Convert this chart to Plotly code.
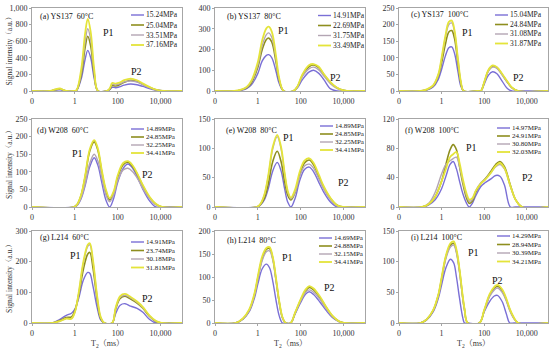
import plotly.graph_objects as go

# ---------------- DATA ----------------
X_TICKS = [0.01, 1, 100, 10000]
X_TICK_TEXT = ["0", "1", "100", "10,000"]

TITLES = ["(a) YS137  60°C", "(b) YS137  80°C", "(c) YS137  100°C",
          "(d) W208  60°C", "(e) W208  80°C", "(f) W208  100°C",
          "(g) L214  60°C", "(h) L214  80°C", "(i) L214  100°C"]

PRESS_A = ["15.24MPa", "25.04MPa", "33.51MPa", "37.16MPa"]
PRESS_B = ["14.91MPa", "22.69MPa", "31.75MPa", "33.49MPa"]
PRESS_C = ["15.04MPa", "24.84MPa", "31.08MPa", "31.87MPa"]
PRESS_D = ["14.89MPa", "24.85MPa", "32.25MPa", "34.41MPa"]
PRESS_E = ["14.89MPa", "24.85MPa", "32.25MPa", "34.41MPa"]
PRESS_F = ["14.97MPa", "24.91MPa", "30.80MPa", "32.03MPa"]
PRESS_G = ["14.91MPa", "23.74MPa", "30.18MPa", "31.81MPa"]
PRESS_H = ["14.69MPa", "24.88MPa", "32.15MPa", "34.41MPa"]
PRESS_I = ["14.29MPa", "28.94MPa", "30.39MPa", "34.21MPa"]

# (a) YS137 60C
T2_A = [0.01, 0.07, 0.12, 0.2, 0.28, 0.4, 0.9, 1.2, 2, 3, 4, 5.5, 8, 12, 30, 42, 55, 80, 120, 200, 400, 800, 1500, 3000, 6000, 15000, 100000]
A1 = [0, 0, 10, 15, 8, 0, 0, 5, 150, 380, 490, 400, 150, 0, 0, 15, 45, 40, 50, 70, 85, 75, 55, 30, 12, 0, 0]
A2 = [0, 0, 15, 25, 12, 0, 0, 8, 200, 520, 660, 540, 200, 0, 0, 20, 65, 60, 75, 105, 130, 115, 80, 45, 15, 0, 0]
A3 = [0, 0, 18, 28, 14, 0, 0, 10, 230, 590, 750, 620, 230, 0, 0, 25, 80, 72, 85, 110, 120, 108, 75, 40, 14, 0, 0]
A4 = [0, 0, 20, 30, 15, 0, 0, 12, 270, 690, 870, 710, 260, 0, 0, 30, 95, 90, 100, 130, 150, 130, 90, 50, 18, 0, 0]

# (b) YS137 80C
T2_B = [0.01, 0.08, 0.15, 0.3, 0.5, 1, 1.6, 2.5, 3.2, 4.5, 7, 10, 16, 45, 70, 120, 250, 400, 700, 1200, 2500, 5000, 10000, 15000, 100000]
B1 = [0, 0, 3, 12, 30, 85, 145, 172, 175, 160, 95, 35, 0, 0, 15, 55, 92, 100, 85, 55, 10, 0, 0, 0, 0]
B2 = [0, 0, 4, 15, 40, 115, 200, 248, 255, 235, 140, 50, 0, 0, 20, 75, 118, 125, 112, 80, 40, 15, 3, 0, 0]
B3 = [0, 0, 4, 17, 45, 125, 220, 272, 280, 258, 155, 55, 0, 0, 18, 70, 108, 115, 102, 72, 34, 12, 2, 0, 0]
B4 = [0, 0, 5, 20, 50, 140, 245, 302, 310, 285, 170, 60, 0, 0, 22, 80, 125, 130, 117, 82, 42, 16, 3, 0, 0]

# (c) YS137 100C
T2_C = [0.01, 0.1, 0.2, 0.4, 0.7, 1, 1.5, 2.2, 3, 4, 6, 8, 11, 50, 70, 100, 160, 250, 400, 700, 1200, 2000, 4000, 100000]
C1 = [0, 0, 3, 12, 35, 65, 105, 130, 133, 115, 55, 15, 0, 0, 0, 20, 48, 58, 52, 30, 8, 0, 0, 0]
C2 = [0, 0, 4, 15, 45, 85, 140, 178, 182, 160, 80, 25, 0, 0, 0, 25, 62, 75, 70, 50, 28, 10, 0, 0]
C3 = [0, 0, 4, 16, 48, 95, 160, 200, 205, 180, 90, 28, 0, 0, 0, 24, 60, 72, 68, 48, 27, 9, 0, 0]
C4 = [0, 0, 5, 17, 50, 100, 165, 208, 212, 185, 92, 30, 0, 0, 0, 26, 64, 77, 72, 52, 30, 11, 0, 0]

# (d) W208 60C
T2_D = [0.01, 0.9, 1.3, 2, 3, 5, 8, 12, 18, 28, 42, 65, 100, 180, 300, 500, 900, 1500, 3000, 6000, 12000, 100000]
D1 = [0, 0, 5, 25, 60, 115, 140, 118, 70, 20, 0, 25, 70, 110, 122, 110, 80, 50, 18, 0, 0, 0]
D2 = [0, 0, 8, 35, 85, 160, 185, 160, 100, 45, 20, 40, 85, 120, 127, 115, 88, 60, 28, 8, 0, 0]
D3 = [0, 0, 6, 28, 65, 125, 150, 130, 85, 35, 15, 35, 75, 105, 110, 100, 78, 52, 25, 6, 0, 0]
D4 = [0, 0, 8, 36, 88, 165, 190, 165, 105, 50, 25, 45, 90, 125, 130, 118, 90, 62, 30, 9, 0, 0]

# (e) W208 80C
T2_E = [0.01, 0.9, 1.3, 2, 3, 5, 8, 12, 18, 25, 35, 55, 90, 150, 250, 400, 700, 1200, 2500, 5000, 10000, 100000]
E1 = [0, 0, 3, 12, 30, 62, 76, 62, 30, 8, 0, 15, 45, 64, 68, 60, 42, 25, 8, 0, 0, 0]
E2 = [0, 0, 4, 15, 38, 78, 95, 78, 42, 20, 12, 25, 55, 75, 80, 72, 52, 33, 14, 3, 0, 0]
E3 = [0, 0, 5, 20, 50, 100, 120, 100, 55, 25, 14, 25, 52, 70, 73, 66, 48, 30, 12, 2, 0, 0]
E4 = [0, 0, 5, 21, 52, 103, 123, 103, 57, 27, 16, 30, 60, 79, 83, 75, 55, 35, 15, 3, 0, 0]

# (f) W208 100C
T2_F = [0.01, 0.12, 0.25, 0.5, 1, 1.6, 2.5, 3.5, 5, 7, 10, 15, 20, 28, 40, 70, 110, 200, 350, 550, 900, 1700, 3000, 6000, 100000]
F1 = [0, 0, 3, 10, 25, 42, 58, 62, 52, 35, 18, 5, 0, 5, 15, 28, 33, 38, 43, 42, 30, 0, 0, 0, 0]
F2 = [0, 0, 4, 14, 35, 58, 78, 85, 78, 55, 32, 12, 5, 8, 20, 32, 38, 48, 58, 62, 55, 30, 10, 0, 0]
F3 = [0, 0, 5, 20, 45, 58, 63, 66, 68, 55, 35, 15, 8, 10, 22, 33, 38, 46, 55, 58, 52, 28, 10, 0, 0]
F4 = [0, 0, 4, 14, 35, 52, 68, 72, 75, 60, 38, 18, 10, 12, 22, 32, 37, 46, 56, 60, 53, 29, 10, 0, 0]

# (g) L214 60C
T2_G = [0.01, 0.09, 0.2, 0.4, 0.7, 1, 1.5, 2.5, 4, 5, 7, 11, 16, 24, 55, 80, 130, 220, 400, 800, 1500, 3000, 6000, 11000, 100000]
G1 = [0, 0, 12, 25, 32, 45, 80, 140, 165, 162, 120, 50, 10, 0, 0, 30, 58, 63, 55, 48, 35, 12, 0, 0, 0]
G2 = [0, 0, 8, 18, 20, 40, 90, 175, 225, 230, 180, 75, 15, 0, 0, 45, 80, 87, 78, 65, 48, 22, 5, 0, 0]
G3 = [0, 0, 6, 15, 15, 35, 95, 195, 250, 255, 200, 85, 18, 0, 0, 48, 84, 90, 82, 68, 50, 24, 6, 0, 0]
G4 = [0, 0, 6, 14, 14, 35, 98, 200, 255, 260, 205, 88, 20, 0, 0, 50, 88, 95, 85, 70, 52, 25, 7, 0, 0]

# (h) L214 80C
T2_H = [0.01, 0.09, 0.2, 0.4, 0.7, 1, 1.6, 2.5, 3.5, 5, 7, 10, 14, 20, 34, 55, 100, 170, 250, 400, 800, 1500, 3000, 6000, 11000, 100000]
H1 = [0, 0, 8, 25, 55, 85, 118, 128, 120, 90, 50, 15, 0, 0, 0, 20, 45, 63, 68, 62, 45, 28, 12, 3, 0, 0]
H2 = [0, 0, 9, 28, 62, 98, 140, 160, 162, 140, 95, 45, 12, 0, 0, 22, 50, 70, 77, 72, 55, 35, 15, 4, 0, 0]
H3 = [0, 0, 9, 27, 60, 95, 136, 155, 157, 136, 92, 43, 11, 0, 0, 21, 48, 67, 72, 67, 51, 32, 14, 3, 0, 0]
H4 = [0, 0, 10, 30, 65, 102, 145, 163, 165, 143, 98, 47, 13, 0, 0, 23, 52, 73, 80, 75, 57, 36, 16, 4, 0, 0]

# (i) L214 100C
T2_I = [0.01, 0.1, 0.2, 0.4, 0.7, 1, 1.6, 2.6, 3.7, 5, 7, 10, 12, 17, 60, 100, 180, 300, 420, 700, 1100, 1600, 2500, 4000, 100000]
I1 = [0, 0, 5, 18, 40, 62, 90, 104, 98, 75, 40, 8, 0, 0, 0, 18, 35, 44, 45, 35, 15, 0, 0, 0, 0]
I2 = [0, 0, 6, 20, 45, 72, 108, 127, 130, 117, 85, 40, 22, 0, 0, 20, 45, 57, 60, 53, 38, 22, 8, 0, 0]
I3 = [0, 0, 6, 20, 44, 70, 105, 124, 127, 114, 82, 38, 20, 0, 0, 19, 43, 54, 57, 50, 36, 20, 7, 0, 0]
I4 = [0, 0, 6, 21, 46, 74, 110, 130, 133, 120, 87, 42, 23, 0, 0, 21, 47, 59, 62, 55, 40, 23, 9, 0, 0]

Y_MAX = [1000, 400, 250, 250, 150, 120, 300, 200, 150]
Y_DTICK = [200, 100, 50, 50, 50, 40, 100, 50, 50]

PANELS = [
    (T2_A, [A1, A2, A3, A4], PRESS_A),
    (T2_B, [B1, B2, B3, B4], PRESS_B),
    (T2_C, [C1, C2, C3, C4], PRESS_C),
    (T2_D, [D1, D2, D3, D4], PRESS_D),
    (T2_E, [E1, E2, E3, E4], PRESS_E),
    (T2_F, [F1, F2, F3, F4], PRESS_F),
    (T2_G, [G1, G2, G3, G4], PRESS_G),
    (T2_H, [H1, H2, H3, H4], PRESS_H),
    (T2_I, [I1, I2, I3, I4], PRESS_I),
]

# ---------------- STYLE / LAYOUT ----------------
W, H = 550, 351
FONT = "Times New Roman, Liberation Serif, Noto Serif CJK SC, Noto Sans CJK SC, serif"
COLORS = ["#7a6fd6", "#8e8e1e", "#b3a5b3", "#e4e43a"]
WIDTHS = [1.4, 1.6, 1.4, 1.8]

COLS = [(32, 182), (215, 365), (399, 548)]
ROWS = [(8, 91), (119, 207), (231, 323)]

# legend: (line x start px, first item y px, spacing px, font size)
LEG = [(131, 15, 10, 7.5), (318, 15.5, 10, 7.5), (495, 15, 9.5, 7.5),
       (131, 129, 8, 7), (320, 126, 8, 7), (497, 128, 8, 7),
       (131, 242, 8.5, 7), (319, 238, 8, 7), (497, 236, 8.5, 7)]
# annotation positions: title (x,y), P1 (x,y), P2 (x,y) in px
ANN = [((38, 17), (108, 32), (136, 71)),
       ((225, 16), (283, 30), (335, 77)),
       ((409, 15), (467, 32), (518, 77)),
       ((35, 130), (77, 153), (147, 174)),
       ((224, 130), (288, 137), (343, 182)),
       ((403, 130), (471, 147), (527, 177)),
       ((38, 237), (75, 255), (147, 298)),
       ((225, 240), (287, 257), (329, 287)),
       ((409, 237), (473, 253), (497, 280))]


def px(x):
    return x / W


def py(y):
    return 1 - y / H


fig = go.Figure()
shapes = []
annotations = []

for i, (t2, series, press) in enumerate(PANELS):
    r, c = divmod(i, 3)
    n = "" if i == 0 else str(i + 1)
    xa, ya = "x" + n, "y" + n
    for k in range(4):
        fig.add_trace(go.Scatter(
            x=t2, y=series[k], xaxis=xa, yaxis=ya, mode="lines",
            line=dict(color=COLORS[k], width=WIDTHS[k], shape="spline", smoothing=1.0),
            name=press[k], showlegend=False))
    x0, x1 = COLS[c]
    y0, y1 = ROWS[r]
    fig.layout["xaxis" + n] = dict(
        domain=[px(x0), px(x1)], anchor=ya, type="log", range=[-2, 5],
        tickvals=X_TICKS, ticktext=X_TICK_TEXT, showgrid=False, zeroline=False,
        showline=True, linecolor="#a6a6a6", linewidth=1, mirror=True,
        ticks="outside", ticklen=2, tickcolor="#a6a6a6",
        tickfont=dict(family=FONT, size=8, color="#333"), automargin=False)
    fig.layout["yaxis" + n] = dict(
        domain=[py(y1), py(y0)], anchor=xa, range=[0, Y_MAX[i]], dtick=Y_DTICK[i],
        tickformat=",", showgrid=False, zeroline=False,
        showline=True, linecolor="#a6a6a6", linewidth=1, mirror=True,
        ticks="outside", ticklen=2, tickcolor="#a6a6a6",
        tickfont=dict(family=FONT, size=8, color="#333"), automargin=False)

    # axis titles as annotations
    if r == 2:
        annotations.append(dict(text="T<sub>2</sub>（ms）", xref="paper", yref="paper",
                                x=px((x0 + x1) / 2), y=py(344), xanchor="center", yanchor="middle",
                                showarrow=False, font=dict(family=FONT, size=8, color="#333")))
    if c == 0:
        annotations.append(dict(text="Signal intensity（a.u.）", xref="paper", yref="paper",
                                x=px(9), y=py((y0 + y1) / 2), xanchor="center", yanchor="middle",
                                textangle=-90, showarrow=False,
                                font=dict(family=FONT, size=7.5, color="#333")))

    # legend (line samples + labels)
    lx, ly, dy, fs = LEG[i]
    for k in range(4):
        yy = ly + k * dy
        shapes.append(dict(type="line", xref="paper", yref="paper",
                           x0=px(lx), x1=px(lx + 13), y0=py(yy), y1=py(yy),
                           line=dict(color=COLORS[k], width=WIDTHS[k])))
        annotations.append(dict(text=press[k], xref="paper", yref="paper",
                                x=px(lx + 14), y=py(yy), xanchor="left", yanchor="middle",
                                showarrow=False, borderpad=0,
                                font=dict(family=FONT, size=fs, color="#222")))
    (tx, ty), (p1x, p1y), (p2x, p2y) = ANN[i]
    annotations.append(dict(text=TITLES[i], xref="paper", yref="paper", x=px(tx), y=py(ty),
                            xanchor="left", yanchor="middle", showarrow=False,
                            font=dict(family=FONT, size=8, color="#111")))
    for label, (ax_, ay_) in (("P1", (p1x, p1y)), ("P2", (p2x, p2y))):
        annotations.append(dict(text=label, xref="paper", yref="paper", x=px(ax_), y=py(ay_),
                                xanchor="center", yanchor="middle", showarrow=False,
                                font=dict(family=FONT, size=10, color="#111")))

fig.update_layout(width=W, height=H, margin=dict(l=0, r=0, t=0, b=0),
                  paper_bgcolor="white", plot_bgcolor="white",
                  shapes=shapes, annotations=annotations, showlegend=False)

fig.write_html("out.html", config={"displayModeBar": False},
               post_script="document.body.style.margin='0';document.body.style.overflow='hidden';")
